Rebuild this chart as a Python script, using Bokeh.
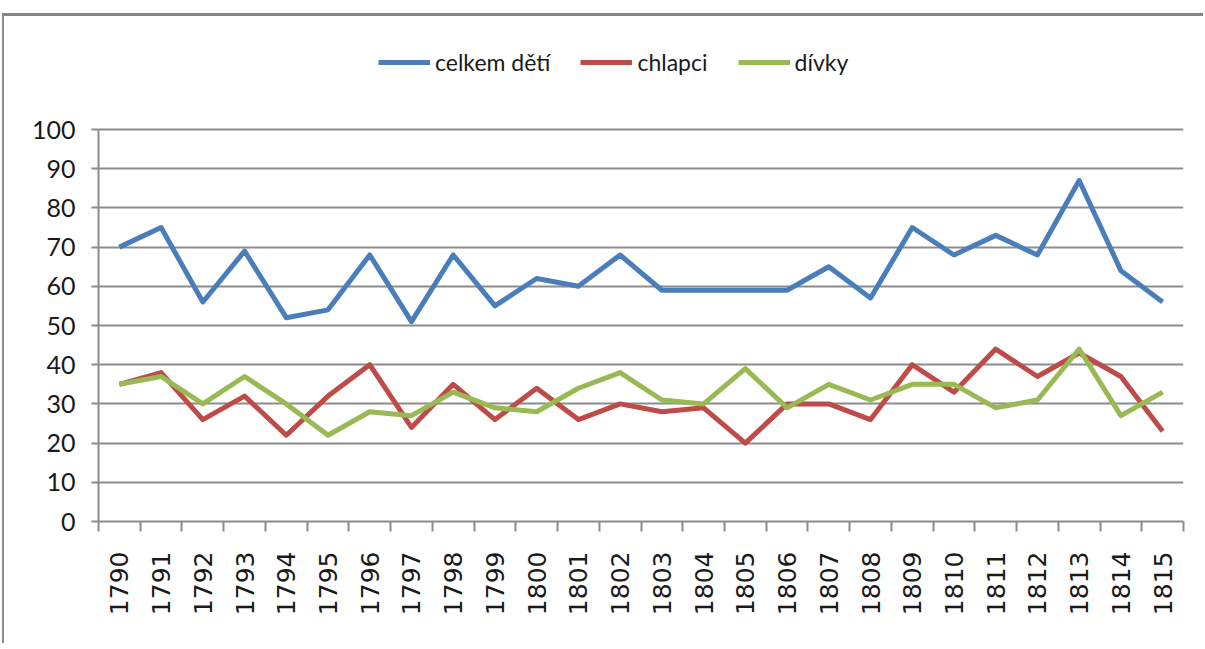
import math
from bokeh.plotting import figure
from bokeh.models import Range1d, FixedTicker, Legend, LegendItem
from bokeh.embed import file_html
from bokeh.resources import INLINE

years = [str(y) for y in range(1790, 1816)]
celkem = [70, 75, 56, 69, 52, 54, 68, 51, 68, 55, 62, 60, 68, 59, 59, 59, 59, 65, 57, 75, 68, 73, 68, 87, 64, 56]
chlapci = [35, 38, 26, 32, 22, 32, 40, 24, 35, 26, 34, 26, 30, 28, 29, 20, 30, 30, 26, 40, 33, 44, 37, 43, 37, 23]
divky = [35, 37, 30, 37, 30, 22, 28, 27, 33, 29, 28, 34, 38, 31, 30, 39, 29, 35, 31, 35, 35, 29, 31, 44, 27, 33]
series_names = ["celkem dětí", "chlapci", "dívky"]
y_ticks = list(range(0, 101, 10))

xs = [i + 0.5 for i in range(len(years))]

# frame extends above 100 so that the legend can sit inside it
p = figure(width=1201, height=630, output_backend="svg", toolbar_location=None,
           x_range=Range1d(0, len(years)), y_range=Range1d(0, 126.8),
           min_border_left=94, min_border_right=22, min_border_top=8, min_border_bottom=125,
           margin=(13, 0, 0, 2))
p.styles = {"border-top": "3px solid #858585", "border-left": "2px solid #8c8c8c"}
p.outline_line_color = None
p.background_fill_color = "white"
p.border_fill_color = "white"

grid_col = "#8c8c8c"
text_col = "#1a1a1a"
# y axis
p.yaxis.ticker = FixedTicker(ticks=y_ticks)
p.yaxis.bounds = (0, 100)
p.yaxis.axis_line_color = grid_col
p.yaxis.axis_line_width = 2
p.yaxis.major_tick_line_color = grid_col
p.yaxis.major_tick_line_width = 2
p.yaxis.major_tick_out = 7
p.yaxis.major_tick_in = 0
p.yaxis.minor_tick_line_color = None
p.yaxis.major_label_standoff = 16
p.yaxis.major_label_text_font = "Lato"
p.yaxis.major_label_text_font_size = "25px"
p.yaxis.major_label_text_color = text_col

# x axis
p.xaxis.ticker = FixedTicker(ticks=xs, minor_ticks=list(range(len(years) + 1)))
p.xaxis.major_label_overrides = {x: y for x, y in zip(xs, years)}
p.xaxis.axis_line_color = grid_col
p.xaxis.axis_line_width = 2
p.xaxis.major_tick_line_color = None
p.xaxis.major_tick_out = 0
p.xaxis.major_tick_in = 0
p.xaxis.minor_tick_line_color = grid_col
p.xaxis.minor_tick_line_width = 2
p.xaxis.minor_tick_out = 10
p.xaxis.minor_tick_in = 0
p.xaxis.major_label_orientation = math.pi / 2
p.xaxis.major_label_standoff = 20
p.xaxis.major_label_text_font = "DejaVu Sans"
p.xaxis.major_label_text_font_size = "25px"
p.xaxis.major_label_text_color = text_col

p.xgrid.grid_line_color = None
p.ygrid.ticker = FixedTicker(ticks=y_ticks)
p.ygrid.grid_line_color = grid_col
p.ygrid.grid_line_width = 2

colors = ["#4A7EBB", "#BE4B48", "#98B954"]
items = []
for name, vals, col in zip(series_names, [celkem, chlapci, divky], colors):
    r = p.line(xs, vals, line_color=col, line_width=5, line_join="round")
    items.append(LegendItem(label=name, renderers=[r]))

legend = Legend(items=items, orientation="horizontal", location=(280, 445),
                glyph_width=52, glyph_height=20, label_height=20, label_standoff=5,
                spacing=30, padding=0, margin=0, border_line_color=None,
                background_fill_alpha=0,
                label_text_font="Lato", label_text_font_size="23px",
                label_text_color=text_col)
p.add_layout(legend, "center")

open("out.html", "w").write(file_html(p, INLINE))
